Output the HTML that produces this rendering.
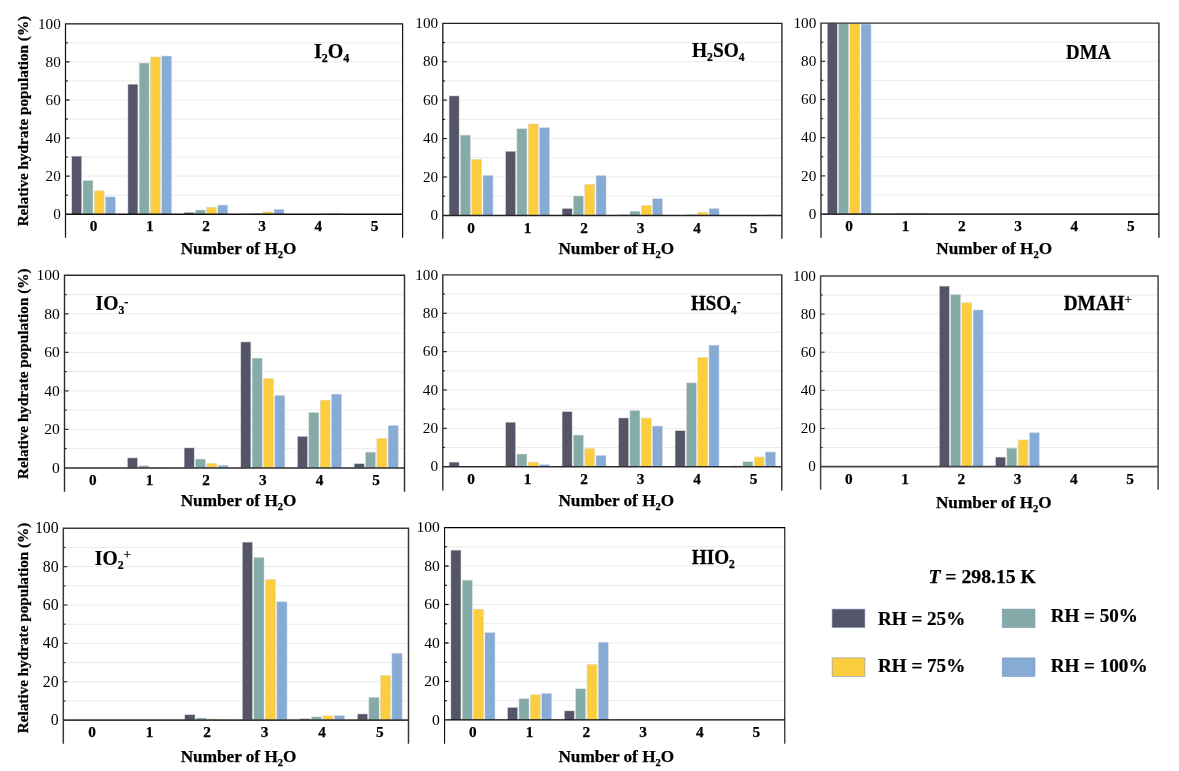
<!DOCTYPE html>
<html lang="en"><head><meta charset="utf-8"><title>Relative hydrate population</title>
<style>html,body{margin:0;padding:0;background:#fff}svg{display:block}text{font-family:"Liberation Serif","Times New Roman",Times,serif;fill:#000}.yt{text-anchor:end}.xt{font-size:15.3px;font-weight:bold;text-anchor:middle}.xl{font-size:17.2px;font-weight:bold;text-anchor:middle}.yl{font-size:15.2px;font-weight:bold;text-anchor:middle}.tt{font-size:20px;font-weight:bold}.lg{font-size:19.7px;font-weight:bold}.xt,.xl,.yl,.tt,.lg{stroke:#000;stroke-width:0.25px}.sb{font-size:12px}.sp{font-size:13.5px;font-weight:normal;stroke:#000;stroke-width:0.3px}.sm{font-size:12.5px}</style></head><body>
<svg width="1179" height="771" viewBox="0 0 1179 771">
<rect width="1179" height="771" fill="#fff"/>
<g>
<line x1="65.5" x2="402.6" y1="195.16" y2="195.16" stroke="#ebebeb" stroke-width="1"/>
<line x1="65.5" x2="402.6" y1="176.12" y2="176.12" stroke="#ebebeb" stroke-width="1"/>
<line x1="65.5" x2="402.6" y1="157.08" y2="157.08" stroke="#ebebeb" stroke-width="1"/>
<line x1="65.5" x2="402.6" y1="138.04" y2="138.04" stroke="#ebebeb" stroke-width="1"/>
<line x1="65.5" x2="402.6" y1="119" y2="119" stroke="#ebebeb" stroke-width="1"/>
<line x1="65.5" x2="402.6" y1="99.96" y2="99.96" stroke="#ebebeb" stroke-width="1"/>
<line x1="65.5" x2="402.6" y1="80.92" y2="80.92" stroke="#ebebeb" stroke-width="1"/>
<line x1="65.5" x2="402.6" y1="61.88" y2="61.88" stroke="#ebebeb" stroke-width="1"/>
<line x1="65.5" x2="402.6" y1="42.84" y2="42.84" stroke="#ebebeb" stroke-width="1"/>
<rect x="71.74" y="156.13" width="10" height="58.07" fill="#55556A" stroke="#dcdcdc" stroke-width="0.5"/>
<rect x="82.97" y="180.5" width="10" height="33.7" fill="#85ABA9" stroke="#dcdcdc" stroke-width="0.5"/>
<rect x="94.21" y="190.78" width="10" height="23.42" fill="#FCCE3E" stroke="#dcdcdc" stroke-width="0.5"/>
<rect x="105.45" y="196.87" width="10" height="17.33" fill="#86ACD6" stroke="#dcdcdc" stroke-width="0.5"/>
<rect x="127.92" y="84.16" width="10" height="130.04" fill="#55556A" stroke="#dcdcdc" stroke-width="0.5"/>
<rect x="139.16" y="63.02" width="10" height="151.18" fill="#85ABA9" stroke="#dcdcdc" stroke-width="0.5"/>
<rect x="150.39" y="56.93" width="10" height="157.27" fill="#FCCE3E" stroke="#dcdcdc" stroke-width="0.5"/>
<rect x="161.63" y="55.98" width="10" height="158.22" fill="#86ACD6" stroke="#dcdcdc" stroke-width="0.5"/>
<rect x="184.1" y="212.39" width="10" height="1.81" fill="#55556A" stroke="#dcdcdc" stroke-width="0.5"/>
<rect x="195.34" y="210.01" width="10" height="4.19" fill="#85ABA9" stroke="#dcdcdc" stroke-width="0.5"/>
<rect x="206.58" y="207.16" width="10" height="7.04" fill="#FCCE3E" stroke="#dcdcdc" stroke-width="0.5"/>
<rect x="217.81" y="205.06" width="10" height="9.14" fill="#86ACD6" stroke="#dcdcdc" stroke-width="0.5"/>
<rect x="240.29" y="214.01" width="10" height="0.19" fill="#55556A" stroke="#dcdcdc" stroke-width="0.5"/>
<rect x="251.52" y="213.44" width="10" height="0.76" fill="#85ABA9" stroke="#dcdcdc" stroke-width="0.5"/>
<rect x="262.76" y="211.92" width="10" height="2.28" fill="#FCCE3E" stroke="#dcdcdc" stroke-width="0.5"/>
<rect x="274" y="209.25" width="10" height="4.95" fill="#86ACD6" stroke="#dcdcdc" stroke-width="0.5"/>
<rect x="318.94" y="214.01" width="10" height="0.19" fill="#FCCE3E" stroke="#dcdcdc" stroke-width="0.5"/>
<rect x="330.18" y="213.63" width="10" height="0.57" fill="#86ACD6" stroke="#dcdcdc" stroke-width="0.5"/>
<line x1="65.5" x2="67.7" y1="195.16" y2="195.16" stroke="#111" stroke-width="1.2"/>
<line x1="65.5" x2="69.5" y1="176.12" y2="176.12" stroke="#111" stroke-width="1.2"/>
<line x1="65.5" x2="67.7" y1="157.08" y2="157.08" stroke="#111" stroke-width="1.2"/>
<line x1="65.5" x2="69.5" y1="138.04" y2="138.04" stroke="#111" stroke-width="1.2"/>
<line x1="65.5" x2="67.7" y1="119" y2="119" stroke="#111" stroke-width="1.2"/>
<line x1="65.5" x2="69.5" y1="99.96" y2="99.96" stroke="#111" stroke-width="1.2"/>
<line x1="65.5" x2="67.7" y1="80.92" y2="80.92" stroke="#111" stroke-width="1.2"/>
<line x1="65.5" x2="69.5" y1="61.88" y2="61.88" stroke="#111" stroke-width="1.2"/>
<line x1="65.5" x2="67.7" y1="42.84" y2="42.84" stroke="#111" stroke-width="1.2"/>
<path d="M65.5 237.8V23.8H402.6V237.8" fill="none" stroke="#111" stroke-width="1.2"/>
<line x1="65.5" x2="402.6" y1="214.2" y2="214.2" stroke="#111" stroke-width="1.35"/>
<text class="yt" font-size="15.2" x="60.8" y="218.96">0</text>
<text class="yt" font-size="15.2" x="60.8" y="180.88">20</text>
<text class="yt" font-size="15.2" x="60.8" y="142.8">40</text>
<text class="yt" font-size="15.2" x="60.8" y="104.72">60</text>
<text class="yt" font-size="15.2" x="60.8" y="66.64">80</text>
<text class="yt" font-size="15.2" x="60.8" y="28.56">100</text>
<text class="xt" x="93.59" y="231.4">0</text>
<text class="xt" x="149.78" y="231.4">1</text>
<text class="xt" x="205.96" y="231.4">2</text>
<text class="xt" x="262.14" y="231.4">3</text>
<text class="xt" x="318.33" y="231.4">4</text>
<text class="xt" x="374.51" y="231.4">5</text>
<text class="xl" x="238.55" y="253.9">Number of H<tspan font-size="10.5px" dy="3.8">2</tspan><tspan dy="-3.8">O</tspan></text>
<text class="yl" transform="translate(28.4 121.1) rotate(-90)">Relative hydrate population (%)</text>
<text class="tt" transform="translate(314 58.2) scale(1 1)">I<tspan class="sb" dy="4">2</tspan><tspan dy="-4">O</tspan><tspan class="sb" dy="4">4</tspan></text>
</g>
<g>
<line x1="442.8" x2="781.9" y1="196.19" y2="196.19" stroke="#ebebeb" stroke-width="1"/>
<line x1="442.8" x2="781.9" y1="176.98" y2="176.98" stroke="#ebebeb" stroke-width="1"/>
<line x1="442.8" x2="781.9" y1="157.77" y2="157.77" stroke="#ebebeb" stroke-width="1"/>
<line x1="442.8" x2="781.9" y1="138.56" y2="138.56" stroke="#ebebeb" stroke-width="1"/>
<line x1="442.8" x2="781.9" y1="119.35" y2="119.35" stroke="#ebebeb" stroke-width="1"/>
<line x1="442.8" x2="781.9" y1="100.14" y2="100.14" stroke="#ebebeb" stroke-width="1"/>
<line x1="442.8" x2="781.9" y1="80.93" y2="80.93" stroke="#ebebeb" stroke-width="1"/>
<line x1="442.8" x2="781.9" y1="61.72" y2="61.72" stroke="#ebebeb" stroke-width="1"/>
<line x1="442.8" x2="781.9" y1="42.51" y2="42.51" stroke="#ebebeb" stroke-width="1"/>
<rect x="449.07" y="95.91" width="10.06" height="119.49" fill="#55556A" stroke="#dcdcdc" stroke-width="0.5"/>
<rect x="460.38" y="135.1" width="10.06" height="80.3" fill="#85ABA9" stroke="#dcdcdc" stroke-width="0.5"/>
<rect x="471.68" y="159.31" width="10.06" height="56.09" fill="#FCCE3E" stroke="#dcdcdc" stroke-width="0.5"/>
<rect x="482.98" y="175.25" width="10.06" height="40.15" fill="#86ACD6" stroke="#dcdcdc" stroke-width="0.5"/>
<rect x="505.59" y="151.24" width="10.06" height="64.16" fill="#55556A" stroke="#dcdcdc" stroke-width="0.5"/>
<rect x="516.89" y="128.76" width="10.06" height="86.64" fill="#85ABA9" stroke="#dcdcdc" stroke-width="0.5"/>
<rect x="528.2" y="123.96" width="10.06" height="91.44" fill="#FCCE3E" stroke="#dcdcdc" stroke-width="0.5"/>
<rect x="539.5" y="127.61" width="10.06" height="87.79" fill="#86ACD6" stroke="#dcdcdc" stroke-width="0.5"/>
<rect x="562.11" y="208.48" width="10.06" height="6.92" fill="#55556A" stroke="#dcdcdc" stroke-width="0.5"/>
<rect x="573.41" y="196" width="10.06" height="19.4" fill="#85ABA9" stroke="#dcdcdc" stroke-width="0.5"/>
<rect x="584.71" y="184.28" width="10.06" height="31.12" fill="#FCCE3E" stroke="#dcdcdc" stroke-width="0.5"/>
<rect x="596.02" y="175.44" width="10.06" height="39.96" fill="#86ACD6" stroke="#dcdcdc" stroke-width="0.5"/>
<rect x="618.62" y="214.82" width="10.06" height="0.58" fill="#55556A" stroke="#dcdcdc" stroke-width="0.5"/>
<rect x="629.93" y="211.17" width="10.06" height="4.23" fill="#85ABA9" stroke="#dcdcdc" stroke-width="0.5"/>
<rect x="641.23" y="205.41" width="10.06" height="9.99" fill="#FCCE3E" stroke="#dcdcdc" stroke-width="0.5"/>
<rect x="652.53" y="198.69" width="10.06" height="16.71" fill="#86ACD6" stroke="#dcdcdc" stroke-width="0.5"/>
<rect x="675.14" y="215.21" width="10.06" height="0.19" fill="#55556A" stroke="#dcdcdc" stroke-width="0.5"/>
<rect x="686.44" y="214.63" width="10.06" height="0.77" fill="#85ABA9" stroke="#dcdcdc" stroke-width="0.5"/>
<rect x="697.75" y="212.13" width="10.06" height="3.27" fill="#FCCE3E" stroke="#dcdcdc" stroke-width="0.5"/>
<rect x="709.05" y="208.48" width="10.06" height="6.92" fill="#86ACD6" stroke="#dcdcdc" stroke-width="0.5"/>
<rect x="754.26" y="215.21" width="10.06" height="0.19" fill="#FCCE3E" stroke="#dcdcdc" stroke-width="0.5"/>
<rect x="765.57" y="214.82" width="10.06" height="0.58" fill="#86ACD6" stroke="#dcdcdc" stroke-width="0.5"/>
<line x1="442.8" x2="445" y1="196.19" y2="196.19" stroke="#222" stroke-width="1.2"/>
<line x1="442.8" x2="446.8" y1="176.98" y2="176.98" stroke="#222" stroke-width="1.2"/>
<line x1="442.8" x2="445" y1="157.77" y2="157.77" stroke="#222" stroke-width="1.2"/>
<line x1="442.8" x2="446.8" y1="138.56" y2="138.56" stroke="#222" stroke-width="1.2"/>
<line x1="442.8" x2="445" y1="119.35" y2="119.35" stroke="#222" stroke-width="1.2"/>
<line x1="442.8" x2="446.8" y1="100.14" y2="100.14" stroke="#222" stroke-width="1.2"/>
<line x1="442.8" x2="445" y1="80.93" y2="80.93" stroke="#222" stroke-width="1.2"/>
<line x1="442.8" x2="446.8" y1="61.72" y2="61.72" stroke="#222" stroke-width="1.2"/>
<line x1="442.8" x2="445" y1="42.51" y2="42.51" stroke="#222" stroke-width="1.2"/>
<path d="M442.8 238.8V23.3H781.9V238.8" fill="none" stroke="#222" stroke-width="1.35"/>
<line x1="442.8" x2="781.9" y1="215.4" y2="215.4" stroke="#222" stroke-width="1.5"/>
<text class="yt" font-size="15.2" x="438.1" y="220.16">0</text>
<text class="yt" font-size="15.2" x="438.1" y="181.74">20</text>
<text class="yt" font-size="15.2" x="438.1" y="143.32">40</text>
<text class="yt" font-size="15.2" x="438.1" y="104.9">60</text>
<text class="yt" font-size="15.2" x="438.1" y="66.48">80</text>
<text class="yt" font-size="15.2" x="438.1" y="28.06">100</text>
<text class="xt" x="471.06" y="232.6">0</text>
<text class="xt" x="527.58" y="232.6">1</text>
<text class="xt" x="584.09" y="232.6">2</text>
<text class="xt" x="640.61" y="232.6">3</text>
<text class="xt" x="697.12" y="232.6">4</text>
<text class="xt" x="753.64" y="232.6">5</text>
<text class="xl" x="616.3" y="253.9">Number of H<tspan font-size="10.5px" dy="3.8">2</tspan><tspan dy="-3.8">O</tspan></text>
<text class="tt" transform="translate(692 57.3) scale(0.97 1)">H<tspan class="sb" dy="4">2</tspan><tspan dy="-4">SO</tspan><tspan class="sb" dy="4">4</tspan></text>
</g>
<g>
<line x1="821" x2="1158.9" y1="195" y2="195" stroke="#ebebeb" stroke-width="1"/>
<line x1="821" x2="1158.9" y1="175.9" y2="175.9" stroke="#ebebeb" stroke-width="1"/>
<line x1="821" x2="1158.9" y1="156.8" y2="156.8" stroke="#ebebeb" stroke-width="1"/>
<line x1="821" x2="1158.9" y1="137.7" y2="137.7" stroke="#ebebeb" stroke-width="1"/>
<line x1="821" x2="1158.9" y1="118.6" y2="118.6" stroke="#ebebeb" stroke-width="1"/>
<line x1="821" x2="1158.9" y1="99.5" y2="99.5" stroke="#ebebeb" stroke-width="1"/>
<line x1="821" x2="1158.9" y1="80.4" y2="80.4" stroke="#ebebeb" stroke-width="1"/>
<line x1="821" x2="1158.9" y1="61.3" y2="61.3" stroke="#ebebeb" stroke-width="1"/>
<line x1="821" x2="1158.9" y1="42.2" y2="42.2" stroke="#ebebeb" stroke-width="1"/>
<rect x="827.25" y="23.1" width="10.02" height="191" fill="#55556A" stroke="#dcdcdc" stroke-width="0.5"/>
<rect x="838.51" y="23.48" width="10.02" height="190.62" fill="#85ABA9" stroke="#dcdcdc" stroke-width="0.5"/>
<rect x="849.78" y="23.67" width="10.02" height="190.43" fill="#FCCE3E" stroke="#dcdcdc" stroke-width="0.5"/>
<rect x="861.04" y="24.06" width="10.02" height="190.04" fill="#86ACD6" stroke="#dcdcdc" stroke-width="0.5"/>
<rect x="894.83" y="213.72" width="10.02" height="0.38" fill="#85ABA9" stroke="#dcdcdc" stroke-width="0.5"/>
<rect x="906.09" y="213.53" width="10.02" height="0.57" fill="#FCCE3E" stroke="#dcdcdc" stroke-width="0.5"/>
<rect x="917.36" y="213.14" width="10.02" height="0.95" fill="#86ACD6" stroke="#dcdcdc" stroke-width="0.5"/>
<line x1="821" x2="823.2" y1="195" y2="195" stroke="#303030" stroke-width="1.2"/>
<line x1="821" x2="825" y1="175.9" y2="175.9" stroke="#303030" stroke-width="1.2"/>
<line x1="821" x2="823.2" y1="156.8" y2="156.8" stroke="#303030" stroke-width="1.2"/>
<line x1="821" x2="825" y1="137.7" y2="137.7" stroke="#303030" stroke-width="1.2"/>
<line x1="821" x2="823.2" y1="118.6" y2="118.6" stroke="#303030" stroke-width="1.2"/>
<line x1="821" x2="825" y1="99.5" y2="99.5" stroke="#303030" stroke-width="1.2"/>
<line x1="821" x2="823.2" y1="80.4" y2="80.4" stroke="#303030" stroke-width="1.2"/>
<line x1="821" x2="825" y1="61.3" y2="61.3" stroke="#303030" stroke-width="1.2"/>
<line x1="821" x2="823.2" y1="42.2" y2="42.2" stroke="#303030" stroke-width="1.2"/>
<path d="M821 237.7V23.1H1158.9V237.7" fill="none" stroke="#303030" stroke-width="1.45"/>
<line x1="821" x2="1158.9" y1="214.1" y2="214.1" stroke="#303030" stroke-width="1.6"/>
<text class="yt" font-size="15.2" x="816.3" y="218.86">0</text>
<text class="yt" font-size="15.2" x="816.3" y="180.66">20</text>
<text class="yt" font-size="15.2" x="816.3" y="142.46">40</text>
<text class="yt" font-size="15.2" x="816.3" y="104.26">60</text>
<text class="yt" font-size="15.2" x="816.3" y="66.06">80</text>
<text class="yt" font-size="15.2" x="816.3" y="27.86">100</text>
<text class="xt" x="849.16" y="231.3">0</text>
<text class="xt" x="905.48" y="231.3">1</text>
<text class="xt" x="961.79" y="231.3">2</text>
<text class="xt" x="1018.11" y="231.3">3</text>
<text class="xt" x="1074.43" y="231.3">4</text>
<text class="xt" x="1130.74" y="231.3">5</text>
<text class="xl" x="994.2" y="253.9">Number of H<tspan font-size="10.5px" dy="3.8">2</tspan><tspan dy="-3.8">O</tspan></text>
<text class="tt" transform="translate(1066.1 58.8) scale(0.94 1)">DMA</text>
</g>
<g>
<line x1="64.5" x2="404.5" y1="448.64" y2="448.64" stroke="#ebebeb" stroke-width="1"/>
<line x1="64.5" x2="404.5" y1="429.38" y2="429.38" stroke="#ebebeb" stroke-width="1"/>
<line x1="64.5" x2="404.5" y1="410.12" y2="410.12" stroke="#ebebeb" stroke-width="1"/>
<line x1="64.5" x2="404.5" y1="390.86" y2="390.86" stroke="#ebebeb" stroke-width="1"/>
<line x1="64.5" x2="404.5" y1="371.6" y2="371.6" stroke="#ebebeb" stroke-width="1"/>
<line x1="64.5" x2="404.5" y1="352.34" y2="352.34" stroke="#ebebeb" stroke-width="1"/>
<line x1="64.5" x2="404.5" y1="333.08" y2="333.08" stroke="#ebebeb" stroke-width="1"/>
<line x1="64.5" x2="404.5" y1="313.82" y2="313.82" stroke="#ebebeb" stroke-width="1"/>
<line x1="64.5" x2="404.5" y1="294.56" y2="294.56" stroke="#ebebeb" stroke-width="1"/>
<rect x="127.46" y="457.88" width="10.09" height="10.02" fill="#55556A" stroke="#dcdcdc" stroke-width="0.5"/>
<rect x="138.79" y="465.78" width="10.09" height="2.12" fill="#85ABA9" stroke="#dcdcdc" stroke-width="0.5"/>
<rect x="150.12" y="467.32" width="10.09" height="0.58" fill="#FCCE3E" stroke="#dcdcdc" stroke-width="0.5"/>
<rect x="161.46" y="467.71" width="10.09" height="0.19" fill="#86ACD6" stroke="#dcdcdc" stroke-width="0.5"/>
<rect x="184.12" y="447.87" width="10.09" height="20.03" fill="#55556A" stroke="#dcdcdc" stroke-width="0.5"/>
<rect x="195.46" y="459.04" width="10.09" height="8.86" fill="#85ABA9" stroke="#dcdcdc" stroke-width="0.5"/>
<rect x="206.79" y="463.28" width="10.09" height="4.62" fill="#FCCE3E" stroke="#dcdcdc" stroke-width="0.5"/>
<rect x="218.12" y="465.2" width="10.09" height="2.7" fill="#86ACD6" stroke="#dcdcdc" stroke-width="0.5"/>
<rect x="240.79" y="341.94" width="10.09" height="125.96" fill="#55556A" stroke="#dcdcdc" stroke-width="0.5"/>
<rect x="252.12" y="358.12" width="10.09" height="109.78" fill="#85ABA9" stroke="#dcdcdc" stroke-width="0.5"/>
<rect x="263.46" y="378.34" width="10.09" height="89.56" fill="#FCCE3E" stroke="#dcdcdc" stroke-width="0.5"/>
<rect x="274.79" y="395.29" width="10.09" height="72.61" fill="#86ACD6" stroke="#dcdcdc" stroke-width="0.5"/>
<rect x="297.46" y="436.31" width="10.09" height="31.59" fill="#55556A" stroke="#dcdcdc" stroke-width="0.5"/>
<rect x="308.79" y="412.43" width="10.09" height="55.47" fill="#85ABA9" stroke="#dcdcdc" stroke-width="0.5"/>
<rect x="320.12" y="400.1" width="10.09" height="67.8" fill="#FCCE3E" stroke="#dcdcdc" stroke-width="0.5"/>
<rect x="331.46" y="394.13" width="10.09" height="73.77" fill="#86ACD6" stroke="#dcdcdc" stroke-width="0.5"/>
<rect x="354.12" y="463.66" width="10.09" height="4.24" fill="#55556A" stroke="#dcdcdc" stroke-width="0.5"/>
<rect x="365.46" y="452.11" width="10.09" height="15.79" fill="#85ABA9" stroke="#dcdcdc" stroke-width="0.5"/>
<rect x="376.79" y="438.24" width="10.09" height="29.66" fill="#FCCE3E" stroke="#dcdcdc" stroke-width="0.5"/>
<rect x="388.12" y="425.34" width="10.09" height="42.56" fill="#86ACD6" stroke="#dcdcdc" stroke-width="0.5"/>
<line x1="64.5" x2="66.7" y1="448.64" y2="448.64" stroke="#2c2c2c" stroke-width="1.2"/>
<line x1="64.5" x2="68.5" y1="429.38" y2="429.38" stroke="#2c2c2c" stroke-width="1.2"/>
<line x1="64.5" x2="66.7" y1="410.12" y2="410.12" stroke="#2c2c2c" stroke-width="1.2"/>
<line x1="64.5" x2="68.5" y1="390.86" y2="390.86" stroke="#2c2c2c" stroke-width="1.2"/>
<line x1="64.5" x2="66.7" y1="371.6" y2="371.6" stroke="#2c2c2c" stroke-width="1.2"/>
<line x1="64.5" x2="68.5" y1="352.34" y2="352.34" stroke="#2c2c2c" stroke-width="1.2"/>
<line x1="64.5" x2="66.7" y1="333.08" y2="333.08" stroke="#2c2c2c" stroke-width="1.2"/>
<line x1="64.5" x2="68.5" y1="313.82" y2="313.82" stroke="#2c2c2c" stroke-width="1.2"/>
<line x1="64.5" x2="66.7" y1="294.56" y2="294.56" stroke="#2c2c2c" stroke-width="1.2"/>
<path d="M64.5 491.7V275.3H404.5V491.7" fill="none" stroke="#2c2c2c" stroke-width="1.4"/>
<line x1="64.5" x2="404.5" y1="467.9" y2="467.9" stroke="#2c2c2c" stroke-width="1.55"/>
<text class="yt" font-size="15.6" x="59.8" y="472.78">0</text>
<text class="yt" font-size="15.6" x="59.8" y="434.26">20</text>
<text class="yt" font-size="15.6" x="59.8" y="395.74">40</text>
<text class="yt" font-size="15.6" x="59.8" y="357.22">60</text>
<text class="yt" font-size="15.6" x="59.8" y="318.7">80</text>
<text class="yt" font-size="15.6" x="59.8" y="280.18">100</text>
<text class="xt" x="92.83" y="485.1">0</text>
<text class="xt" x="149.5" y="485.1">1</text>
<text class="xt" x="206.17" y="485.1">2</text>
<text class="xt" x="262.83" y="485.1">3</text>
<text class="xt" x="319.5" y="485.1">4</text>
<text class="xt" x="376.17" y="485.1">5</text>
<text class="xl" x="238.55" y="506">Number of H<tspan font-size="10.5px" dy="3.8">2</tspan><tspan dy="-3.8">O</tspan></text>
<text class="yl" transform="translate(28.4 373.8) rotate(-90)">Relative hydrate population (%)</text>
<text class="tt" transform="translate(95.6 310.2) scale(0.98 1)">IO<tspan class="sb" dy="4">3</tspan><tspan class="sm" dy="-8.5">-</tspan></text>
</g>
<g>
<line x1="442.8" x2="781.8" y1="447.52" y2="447.52" stroke="#ebebeb" stroke-width="1"/>
<line x1="442.8" x2="781.8" y1="428.34" y2="428.34" stroke="#ebebeb" stroke-width="1"/>
<line x1="442.8" x2="781.8" y1="409.16" y2="409.16" stroke="#ebebeb" stroke-width="1"/>
<line x1="442.8" x2="781.8" y1="389.98" y2="389.98" stroke="#ebebeb" stroke-width="1"/>
<line x1="442.8" x2="781.8" y1="370.8" y2="370.8" stroke="#ebebeb" stroke-width="1"/>
<line x1="442.8" x2="781.8" y1="351.62" y2="351.62" stroke="#ebebeb" stroke-width="1"/>
<line x1="442.8" x2="781.8" y1="332.44" y2="332.44" stroke="#ebebeb" stroke-width="1"/>
<line x1="442.8" x2="781.8" y1="313.26" y2="313.26" stroke="#ebebeb" stroke-width="1"/>
<line x1="442.8" x2="781.8" y1="294.08" y2="294.08" stroke="#ebebeb" stroke-width="1"/>
<rect x="449.07" y="462.1" width="10.06" height="4.6" fill="#55556A" stroke="#dcdcdc" stroke-width="0.5"/>
<rect x="460.37" y="466.32" width="10.06" height="0.38" fill="#85ABA9" stroke="#dcdcdc" stroke-width="0.5"/>
<rect x="505.57" y="422.2" width="10.06" height="44.5" fill="#55556A" stroke="#dcdcdc" stroke-width="0.5"/>
<rect x="516.87" y="454.04" width="10.06" height="12.66" fill="#85ABA9" stroke="#dcdcdc" stroke-width="0.5"/>
<rect x="528.17" y="462.1" width="10.06" height="4.6" fill="#FCCE3E" stroke="#dcdcdc" stroke-width="0.5"/>
<rect x="539.47" y="464.59" width="10.06" height="2.11" fill="#86ACD6" stroke="#dcdcdc" stroke-width="0.5"/>
<rect x="562.07" y="411.65" width="10.06" height="55.05" fill="#55556A" stroke="#dcdcdc" stroke-width="0.5"/>
<rect x="573.37" y="435.05" width="10.06" height="31.65" fill="#85ABA9" stroke="#dcdcdc" stroke-width="0.5"/>
<rect x="584.67" y="448.48" width="10.06" height="18.22" fill="#FCCE3E" stroke="#dcdcdc" stroke-width="0.5"/>
<rect x="595.97" y="455.38" width="10.06" height="11.32" fill="#86ACD6" stroke="#dcdcdc" stroke-width="0.5"/>
<rect x="618.57" y="417.98" width="10.06" height="48.72" fill="#55556A" stroke="#dcdcdc" stroke-width="0.5"/>
<rect x="629.87" y="410.5" width="10.06" height="56.2" fill="#85ABA9" stroke="#dcdcdc" stroke-width="0.5"/>
<rect x="641.17" y="417.98" width="10.06" height="48.72" fill="#FCCE3E" stroke="#dcdcdc" stroke-width="0.5"/>
<rect x="652.47" y="426.04" width="10.06" height="40.66" fill="#86ACD6" stroke="#dcdcdc" stroke-width="0.5"/>
<rect x="675.07" y="430.64" width="10.06" height="36.06" fill="#55556A" stroke="#dcdcdc" stroke-width="0.5"/>
<rect x="686.37" y="382.88" width="10.06" height="83.82" fill="#85ABA9" stroke="#dcdcdc" stroke-width="0.5"/>
<rect x="697.67" y="357.37" width="10.06" height="109.33" fill="#FCCE3E" stroke="#dcdcdc" stroke-width="0.5"/>
<rect x="708.97" y="345.1" width="10.06" height="121.6" fill="#86ACD6" stroke="#dcdcdc" stroke-width="0.5"/>
<rect x="731.57" y="465.93" width="10.06" height="0.77" fill="#55556A" stroke="#dcdcdc" stroke-width="0.5"/>
<rect x="742.87" y="461.71" width="10.06" height="4.99" fill="#85ABA9" stroke="#dcdcdc" stroke-width="0.5"/>
<rect x="754.17" y="456.92" width="10.06" height="9.78" fill="#FCCE3E" stroke="#dcdcdc" stroke-width="0.5"/>
<rect x="765.47" y="451.93" width="10.06" height="14.77" fill="#86ACD6" stroke="#dcdcdc" stroke-width="0.5"/>
<line x1="442.8" x2="445" y1="447.52" y2="447.52" stroke="#2c2c2c" stroke-width="1.2"/>
<line x1="442.8" x2="446.8" y1="428.34" y2="428.34" stroke="#2c2c2c" stroke-width="1.2"/>
<line x1="442.8" x2="445" y1="409.16" y2="409.16" stroke="#2c2c2c" stroke-width="1.2"/>
<line x1="442.8" x2="446.8" y1="389.98" y2="389.98" stroke="#2c2c2c" stroke-width="1.2"/>
<line x1="442.8" x2="445" y1="370.8" y2="370.8" stroke="#2c2c2c" stroke-width="1.2"/>
<line x1="442.8" x2="446.8" y1="351.62" y2="351.62" stroke="#2c2c2c" stroke-width="1.2"/>
<line x1="442.8" x2="445" y1="332.44" y2="332.44" stroke="#2c2c2c" stroke-width="1.2"/>
<line x1="442.8" x2="446.8" y1="313.26" y2="313.26" stroke="#2c2c2c" stroke-width="1.2"/>
<line x1="442.8" x2="445" y1="294.08" y2="294.08" stroke="#2c2c2c" stroke-width="1.2"/>
<path d="M442.8 490.5V274.9H781.8V490.5" fill="none" stroke="#2c2c2c" stroke-width="1.4"/>
<line x1="442.8" x2="781.8" y1="466.7" y2="466.7" stroke="#2c2c2c" stroke-width="1.55"/>
<text class="yt" font-size="15.3" x="438.1" y="471.49">0</text>
<text class="yt" font-size="15.3" x="438.1" y="433.13">20</text>
<text class="yt" font-size="15.3" x="438.1" y="394.77">40</text>
<text class="yt" font-size="15.3" x="438.1" y="356.41">60</text>
<text class="yt" font-size="15.3" x="438.1" y="318.05">80</text>
<text class="yt" font-size="15.3" x="438.1" y="279.69">100</text>
<text class="xt" x="471.05" y="483.9">0</text>
<text class="xt" x="527.55" y="483.9">1</text>
<text class="xt" x="584.05" y="483.9">2</text>
<text class="xt" x="640.55" y="483.9">3</text>
<text class="xt" x="697.05" y="483.9">4</text>
<text class="xt" x="753.55" y="483.9">5</text>
<text class="xl" x="616.3" y="506">Number of H<tspan font-size="10.5px" dy="3.8">2</tspan><tspan dy="-3.8">O</tspan></text>
<text class="tt" transform="translate(691 310) scale(0.95 1)">HSO<tspan class="sb" dy="4">4</tspan><tspan class="sm" dy="-8.5">-</tspan></text>
</g>
<g>
<line x1="820.6" x2="1158.1" y1="447.54" y2="447.54" stroke="#ebebeb" stroke-width="1"/>
<line x1="820.6" x2="1158.1" y1="428.48" y2="428.48" stroke="#ebebeb" stroke-width="1"/>
<line x1="820.6" x2="1158.1" y1="409.42" y2="409.42" stroke="#ebebeb" stroke-width="1"/>
<line x1="820.6" x2="1158.1" y1="390.36" y2="390.36" stroke="#ebebeb" stroke-width="1"/>
<line x1="820.6" x2="1158.1" y1="371.3" y2="371.3" stroke="#ebebeb" stroke-width="1"/>
<line x1="820.6" x2="1158.1" y1="352.24" y2="352.24" stroke="#ebebeb" stroke-width="1"/>
<line x1="820.6" x2="1158.1" y1="333.18" y2="333.18" stroke="#ebebeb" stroke-width="1"/>
<line x1="820.6" x2="1158.1" y1="314.12" y2="314.12" stroke="#ebebeb" stroke-width="1"/>
<line x1="820.6" x2="1158.1" y1="295.06" y2="295.06" stroke="#ebebeb" stroke-width="1"/>
<rect x="939.34" y="286.1" width="10.01" height="180.5" fill="#55556A" stroke="#dcdcdc" stroke-width="0.5"/>
<rect x="950.59" y="294.49" width="10.01" height="172.11" fill="#85ABA9" stroke="#dcdcdc" stroke-width="0.5"/>
<rect x="961.84" y="302.68" width="10.01" height="163.92" fill="#FCCE3E" stroke="#dcdcdc" stroke-width="0.5"/>
<rect x="973.09" y="309.93" width="10.01" height="156.67" fill="#86ACD6" stroke="#dcdcdc" stroke-width="0.5"/>
<rect x="995.59" y="457.07" width="10.01" height="9.53" fill="#55556A" stroke="#dcdcdc" stroke-width="0.5"/>
<rect x="1006.84" y="448.11" width="10.01" height="18.49" fill="#85ABA9" stroke="#dcdcdc" stroke-width="0.5"/>
<rect x="1018.09" y="439.92" width="10.01" height="26.68" fill="#FCCE3E" stroke="#dcdcdc" stroke-width="0.5"/>
<rect x="1029.34" y="432.67" width="10.01" height="33.93" fill="#86ACD6" stroke="#dcdcdc" stroke-width="0.5"/>
<line x1="820.6" x2="822.8" y1="447.54" y2="447.54" stroke="#444" stroke-width="1.2"/>
<line x1="820.6" x2="824.6" y1="428.48" y2="428.48" stroke="#444" stroke-width="1.2"/>
<line x1="820.6" x2="822.8" y1="409.42" y2="409.42" stroke="#444" stroke-width="1.2"/>
<line x1="820.6" x2="824.6" y1="390.36" y2="390.36" stroke="#444" stroke-width="1.2"/>
<line x1="820.6" x2="822.8" y1="371.3" y2="371.3" stroke="#444" stroke-width="1.2"/>
<line x1="820.6" x2="824.6" y1="352.24" y2="352.24" stroke="#444" stroke-width="1.2"/>
<line x1="820.6" x2="822.8" y1="333.18" y2="333.18" stroke="#444" stroke-width="1.2"/>
<line x1="820.6" x2="824.6" y1="314.12" y2="314.12" stroke="#444" stroke-width="1.2"/>
<line x1="820.6" x2="822.8" y1="295.06" y2="295.06" stroke="#444" stroke-width="1.2"/>
<path d="M820.6 489.8V276H1158.1V489.8" fill="none" stroke="#444" stroke-width="1.5"/>
<line x1="820.6" x2="1158.1" y1="466.6" y2="466.6" stroke="#444" stroke-width="1.65"/>
<text class="yt" font-size="15.2" x="815.9" y="471.36">0</text>
<text class="yt" font-size="15.2" x="815.9" y="433.24">20</text>
<text class="yt" font-size="15.2" x="815.9" y="395.12">40</text>
<text class="yt" font-size="15.2" x="815.9" y="357">60</text>
<text class="yt" font-size="15.2" x="815.9" y="318.88">80</text>
<text class="yt" font-size="15.2" x="815.9" y="280.76">100</text>
<text class="xt" x="848.73" y="483.8">0</text>
<text class="xt" x="904.98" y="483.8">1</text>
<text class="xt" x="961.22" y="483.8">2</text>
<text class="xt" x="1017.47" y="483.8">3</text>
<text class="xt" x="1073.72" y="483.8">4</text>
<text class="xt" x="1129.97" y="483.8">5</text>
<text class="xl" x="993.8" y="508.3">Number of H<tspan font-size="10.5px" dy="3.8">2</tspan><tspan dy="-3.8">O</tspan></text>
<text class="tt" transform="translate(1063.7 310.2) scale(0.96 1)">DMAH<tspan class="sp" dy="-6">+</tspan></text>
</g>
<g>
<line x1="63.3" x2="408.5" y1="700.92" y2="700.92" stroke="#ebebeb" stroke-width="1"/>
<line x1="63.3" x2="408.5" y1="681.74" y2="681.74" stroke="#ebebeb" stroke-width="1"/>
<line x1="63.3" x2="408.5" y1="662.56" y2="662.56" stroke="#ebebeb" stroke-width="1"/>
<line x1="63.3" x2="408.5" y1="643.38" y2="643.38" stroke="#ebebeb" stroke-width="1"/>
<line x1="63.3" x2="408.5" y1="624.2" y2="624.2" stroke="#ebebeb" stroke-width="1"/>
<line x1="63.3" x2="408.5" y1="605.02" y2="605.02" stroke="#ebebeb" stroke-width="1"/>
<line x1="63.3" x2="408.5" y1="585.84" y2="585.84" stroke="#ebebeb" stroke-width="1"/>
<line x1="63.3" x2="408.5" y1="566.66" y2="566.66" stroke="#ebebeb" stroke-width="1"/>
<line x1="63.3" x2="408.5" y1="547.48" y2="547.48" stroke="#ebebeb" stroke-width="1"/>
<rect x="184.75" y="714.73" width="10.24" height="5.37" fill="#55556A" stroke="#dcdcdc" stroke-width="0.5"/>
<rect x="196.26" y="717.99" width="10.24" height="2.11" fill="#85ABA9" stroke="#dcdcdc" stroke-width="0.5"/>
<rect x="207.77" y="718.95" width="10.24" height="1.15" fill="#FCCE3E" stroke="#dcdcdc" stroke-width="0.5"/>
<rect x="219.27" y="719.72" width="10.24" height="0.38" fill="#86ACD6" stroke="#dcdcdc" stroke-width="0.5"/>
<rect x="242.29" y="542.11" width="10.24" height="177.99" fill="#55556A" stroke="#dcdcdc" stroke-width="0.5"/>
<rect x="253.79" y="557.45" width="10.24" height="162.65" fill="#85ABA9" stroke="#dcdcdc" stroke-width="0.5"/>
<rect x="265.3" y="579.32" width="10.24" height="140.78" fill="#FCCE3E" stroke="#dcdcdc" stroke-width="0.5"/>
<rect x="276.81" y="601.76" width="10.24" height="118.34" fill="#86ACD6" stroke="#dcdcdc" stroke-width="0.5"/>
<rect x="299.82" y="718.76" width="10.24" height="1.34" fill="#55556A" stroke="#dcdcdc" stroke-width="0.5"/>
<rect x="311.33" y="716.84" width="10.24" height="3.26" fill="#85ABA9" stroke="#dcdcdc" stroke-width="0.5"/>
<rect x="322.83" y="715.88" width="10.24" height="4.22" fill="#FCCE3E" stroke="#dcdcdc" stroke-width="0.5"/>
<rect x="334.34" y="715.5" width="10.24" height="4.6" fill="#86ACD6" stroke="#dcdcdc" stroke-width="0.5"/>
<rect x="357.35" y="713.96" width="10.24" height="6.14" fill="#55556A" stroke="#dcdcdc" stroke-width="0.5"/>
<rect x="368.86" y="697.28" width="10.24" height="22.82" fill="#85ABA9" stroke="#dcdcdc" stroke-width="0.5"/>
<rect x="380.37" y="675.22" width="10.24" height="44.88" fill="#FCCE3E" stroke="#dcdcdc" stroke-width="0.5"/>
<rect x="391.87" y="653.16" width="10.24" height="66.94" fill="#86ACD6" stroke="#dcdcdc" stroke-width="0.5"/>
<line x1="63.3" x2="65.5" y1="700.92" y2="700.92" stroke="#3a3a3a" stroke-width="1.2"/>
<line x1="63.3" x2="67.3" y1="681.74" y2="681.74" stroke="#3a3a3a" stroke-width="1.2"/>
<line x1="63.3" x2="65.5" y1="662.56" y2="662.56" stroke="#3a3a3a" stroke-width="1.2"/>
<line x1="63.3" x2="67.3" y1="643.38" y2="643.38" stroke="#3a3a3a" stroke-width="1.2"/>
<line x1="63.3" x2="65.5" y1="624.2" y2="624.2" stroke="#3a3a3a" stroke-width="1.2"/>
<line x1="63.3" x2="67.3" y1="605.02" y2="605.02" stroke="#3a3a3a" stroke-width="1.2"/>
<line x1="63.3" x2="65.5" y1="585.84" y2="585.84" stroke="#3a3a3a" stroke-width="1.2"/>
<line x1="63.3" x2="67.3" y1="566.66" y2="566.66" stroke="#3a3a3a" stroke-width="1.2"/>
<line x1="63.3" x2="65.5" y1="547.48" y2="547.48" stroke="#3a3a3a" stroke-width="1.2"/>
<path d="M63.3 743.8V528.3H408.5V743.8" fill="none" stroke="#3a3a3a" stroke-width="1.5"/>
<line x1="63.3" x2="408.5" y1="720.1" y2="720.1" stroke="#3a3a3a" stroke-width="1.65"/>
<text class="yt" font-size="15.8" x="58.6" y="725.05">0</text>
<text class="yt" font-size="15.8" x="58.6" y="686.69">20</text>
<text class="yt" font-size="15.8" x="58.6" y="648.33">40</text>
<text class="yt" font-size="15.8" x="58.6" y="609.97">60</text>
<text class="yt" font-size="15.8" x="58.6" y="571.61">80</text>
<text class="yt" font-size="15.8" x="58.6" y="533.25">100</text>
<text class="xt" x="92.07" y="737.3">0</text>
<text class="xt" x="149.6" y="737.3">1</text>
<text class="xt" x="207.13" y="737.3">2</text>
<text class="xt" x="264.67" y="737.3">3</text>
<text class="xt" x="322.2" y="737.3">4</text>
<text class="xt" x="379.73" y="737.3">5</text>
<text class="xl" x="238.55" y="762.4">Number of H<tspan font-size="10.5px" dy="3.8">2</tspan><tspan dy="-3.8">O</tspan></text>
<text class="yl" transform="translate(28.4 627.9) rotate(-90)">Relative hydrate population (%)</text>
<text class="tt" transform="translate(94.8 565) scale(0.98 1)">IO<tspan class="sb" dy="4">2</tspan><tspan class="sp" dy="-10">+</tspan></text>
</g>
<g>
<line x1="444.6" x2="784.8" y1="700.67" y2="700.67" stroke="#ebebeb" stroke-width="1"/>
<line x1="444.6" x2="784.8" y1="681.44" y2="681.44" stroke="#ebebeb" stroke-width="1"/>
<line x1="444.6" x2="784.8" y1="662.21" y2="662.21" stroke="#ebebeb" stroke-width="1"/>
<line x1="444.6" x2="784.8" y1="642.98" y2="642.98" stroke="#ebebeb" stroke-width="1"/>
<line x1="444.6" x2="784.8" y1="623.75" y2="623.75" stroke="#ebebeb" stroke-width="1"/>
<line x1="444.6" x2="784.8" y1="604.52" y2="604.52" stroke="#ebebeb" stroke-width="1"/>
<line x1="444.6" x2="784.8" y1="585.29" y2="585.29" stroke="#ebebeb" stroke-width="1"/>
<line x1="444.6" x2="784.8" y1="566.06" y2="566.06" stroke="#ebebeb" stroke-width="1"/>
<line x1="444.6" x2="784.8" y1="546.83" y2="546.83" stroke="#ebebeb" stroke-width="1"/>
<rect x="450.89" y="550.1" width="10.09" height="169.8" fill="#55556A" stroke="#dcdcdc" stroke-width="0.5"/>
<rect x="462.23" y="580.1" width="10.09" height="139.8" fill="#85ABA9" stroke="#dcdcdc" stroke-width="0.5"/>
<rect x="473.57" y="609.14" width="10.09" height="110.76" fill="#FCCE3E" stroke="#dcdcdc" stroke-width="0.5"/>
<rect x="484.91" y="632.6" width="10.09" height="87.3" fill="#86ACD6" stroke="#dcdcdc" stroke-width="0.5"/>
<rect x="507.59" y="707.4" width="10.09" height="12.5" fill="#55556A" stroke="#dcdcdc" stroke-width="0.5"/>
<rect x="518.93" y="698.75" width="10.09" height="21.15" fill="#85ABA9" stroke="#dcdcdc" stroke-width="0.5"/>
<rect x="530.27" y="694.71" width="10.09" height="25.19" fill="#FCCE3E" stroke="#dcdcdc" stroke-width="0.5"/>
<rect x="541.61" y="693.36" width="10.09" height="26.54" fill="#86ACD6" stroke="#dcdcdc" stroke-width="0.5"/>
<rect x="564.29" y="710.86" width="10.09" height="9.04" fill="#55556A" stroke="#dcdcdc" stroke-width="0.5"/>
<rect x="575.63" y="688.75" width="10.09" height="31.15" fill="#85ABA9" stroke="#dcdcdc" stroke-width="0.5"/>
<rect x="586.97" y="664.33" width="10.09" height="55.57" fill="#FCCE3E" stroke="#dcdcdc" stroke-width="0.5"/>
<rect x="598.31" y="642.21" width="10.09" height="77.69" fill="#86ACD6" stroke="#dcdcdc" stroke-width="0.5"/>
<line x1="444.6" x2="446.8" y1="700.67" y2="700.67" stroke="#000" stroke-width="1.2"/>
<line x1="444.6" x2="448.6" y1="681.44" y2="681.44" stroke="#000" stroke-width="1.2"/>
<line x1="444.6" x2="446.8" y1="662.21" y2="662.21" stroke="#000" stroke-width="1.2"/>
<line x1="444.6" x2="448.6" y1="642.98" y2="642.98" stroke="#000" stroke-width="1.2"/>
<line x1="444.6" x2="446.8" y1="623.75" y2="623.75" stroke="#000" stroke-width="1.2"/>
<line x1="444.6" x2="448.6" y1="604.52" y2="604.52" stroke="#000" stroke-width="1.2"/>
<line x1="444.6" x2="446.8" y1="585.29" y2="585.29" stroke="#000" stroke-width="1.2"/>
<line x1="444.6" x2="448.6" y1="566.06" y2="566.06" stroke="#000" stroke-width="1.2"/>
<line x1="444.6" x2="446.8" y1="546.83" y2="546.83" stroke="#000" stroke-width="1.2"/>
<path d="M444.6 743.8V527.6H784.8V743.8" fill="none" stroke="#000" stroke-width="1.05"/>
<line x1="444.6" x2="784.8" y1="719.9" y2="719.9" stroke="#000" stroke-width="1.2"/>
<text class="yt" font-size="15.6" x="439.9" y="724.78">0</text>
<text class="yt" font-size="15.6" x="439.9" y="686.32">20</text>
<text class="yt" font-size="15.6" x="439.9" y="647.86">40</text>
<text class="yt" font-size="15.6" x="439.9" y="609.4">60</text>
<text class="yt" font-size="15.6" x="439.9" y="570.94">80</text>
<text class="yt" font-size="15.6" x="439.9" y="532.48">100</text>
<text class="xt" x="472.95" y="737.1">0</text>
<text class="xt" x="529.65" y="737.1">1</text>
<text class="xt" x="586.35" y="737.1">2</text>
<text class="xt" x="643.05" y="737.1">3</text>
<text class="xt" x="699.75" y="737.1">4</text>
<text class="xt" x="756.45" y="737.1">5</text>
<text class="xl" x="616.3" y="762.4">Number of H<tspan font-size="10.5px" dy="3.8">2</tspan><tspan dy="-3.8">O</tspan></text>
<text class="tt" transform="translate(691.8 564) scale(0.96 1)">HIO<tspan class="sb" dy="4">2</tspan></text>
</g>
<g>
<text class="lg" x="928.4" y="583.1" font-size="20.1px"><tspan font-style="italic">T</tspan> = 298.15 K</text>
<rect x="832.1" y="609.1" width="32.8" height="18.5" fill="#55556A" stroke="#7f95bd" stroke-width="0.6"/>
<rect x="1002.2" y="609.1" width="32.8" height="18.5" fill="#85ABA9" stroke="#7f95bd" stroke-width="0.6"/>
<rect x="832.1" y="657.9" width="32.8" height="18.5" fill="#FCCE3E" stroke="#7f95bd" stroke-width="0.6"/>
<rect x="1002.2" y="657.9" width="32.8" height="18.5" fill="#86ACD6" stroke="#7f95bd" stroke-width="0.6"/>
<text class="lg" transform="translate(878 625.3) scale(0.97 1)">RH = 25%</text>
<text class="lg" transform="translate(1050.7 622.1) scale(0.97 1)">RH = 50%</text>
<text class="lg" transform="translate(878 672) scale(0.97 1)">RH = 75%</text>
<text class="lg" transform="translate(1050.7 672) scale(0.97 1)">RH = 100%</text>
</g>
</svg></body></html>
